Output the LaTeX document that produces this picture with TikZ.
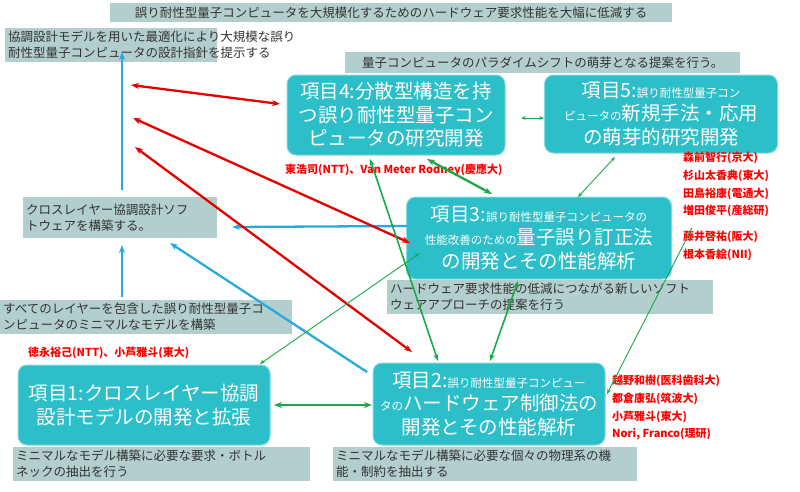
\documentclass[tikz,border=0pt]{standalone}
\usepackage{fontspec}
\setmainfont{Noto Sans CJK JP}
\usetikzlibrary{arrows.meta}
\definecolor{teal1}{HTML}{2CBFC9}
\definecolor{grey1}{HTML}{B3CFCD}
\definecolor{bl}{HTML}{29A9E1}
\definecolor{gr}{HTML}{1BAA4A}
\newcommand\smfnt{\fontsize{11.5}{14}\selectfont}
\begin{document}
\begin{tikzpicture}[x=1pt,y=-1pt,
 item/.style={draw=teal1!60!white,line width=1pt,fill=teal1,rounded corners=9pt,text=white,align=center,font=\fontsize{19.5}{23.5}\selectfont,inner sep=0pt},
 gbox/.style={fill=grey1,anchor=north west,align=left,inner sep=3pt,font=\fontsize{12.5}{16}\selectfont,text=black!80},
 who/.style={text=red,font=\bfseries\fontsize{11}{13}\selectfont,anchor=west,inner sep=0pt},
 ra/.style={red!90!black,line width=2.3pt,{Stealth[length=8pt]}-{Stealth[length=8pt]}},
 ba/.style={bl,line width=2.3pt,-{Stealth[length=8pt]}},
 ga/.style={gr,line width=2.3pt,{Stealth[length=8pt]}-{Stealth[length=8pt]}},
 gm/.style={gr,line width=1.6pt,{Stealth[length=7pt]}-{Stealth[length=7pt]}},
 gt/.style={gr,line width=0.9pt,{Stealth[length=5pt]}-{Stealth[length=5pt]}}]
\useasboundingbox (0,0) rectangle (800,491);
% grey boxes
\node[gbox,minimum width=562pt,minimum height=19pt] (g0) at (110,3) {誤り耐性型量子コンピュータを大規模化するためのハードウェア要求性能を大幅に低減する};
\node[gbox,text width=206pt] (g1) at (5,28) {協調設計モデルを用いた最適化により大規模な誤り\\耐性型量子コンピュータの設計指針を提示する};
\node[gbox,minimum width=395pt,minimum height=21pt] (g2) at (345,52) {量子コンピュータのパラダイムシフトの萌芽となる提案を行う。};
\node[gbox,text width=188pt,minimum height=41pt] (g3) at (23,197) {クロスレイヤー協調設計ソフ\\トウェアを構築する。};
\node[gbox,text width=320pt] (g4) at (387,280) {ハードウェア要求性能の低減につながる新しいソフト\\ウェアアプローチの提案を行う};
\node[gbox,text width=286pt] (g5) at (0,300) {すべてのレイヤーを包含した誤り耐性型量子コ\\ンピュータのミニマルなモデルを構築};
\node[gbox,text width=291pt] (g6) at (13,447) {ミニマルなモデル構築に必要な要求・ボトル\\ネックの抽出を行う};
\node[gbox,text width=298pt] (g7) at (333,447) {ミニマルなモデル構築に必要な個々の物理系の機\\能・制約を抽出する};
% items
\node[item,minimum width=218pt,minimum height=80pt] (i4) at (396,115) {項目4:分散型構造を持\\つ誤り耐性型量子コン\\ピュータの研究開発};
\node[item,minimum width=233pt,minimum height=78pt] (i5) at (661,114) {項目5:{\smfnt 誤り耐性型量子コン}\\{\smfnt ピュータの}新規手法・応用\\の萌芽的研究開発};
\node[item,minimum width=265pt,minimum height=82pt] (i3) at (539,238) {項目3:{\smfnt 誤り耐性型量子コンピュータの}\\{\smfnt 性能改善のための}量子誤り訂正法\\の開発とその性能解析};
\node[item,minimum width=252pt,minimum height=80pt] (i1) at (144,405) {項目1:クロスレイヤー協調\\設計モデルの開発と拡張};
\node[item,minimum width=232pt,minimum height=82pt] (i2) at (489,404) {項目2:{\smfnt 誤り耐性型量子コンピュー}\\{\smfnt タの}ハードウェア制御法の\\開発とその性能解析};
% names
\node[who] (w4) at (285,170) {東浩司(NTT)、Van Meter Rodney(慶應大)};
\node[who,align=left,font=\bfseries\fontsize{11}{17.7}\selectfont,anchor=north west] (w5) at (683,152) {森前智行(京大)\\杉山太香典(東大)\\田島裕康(電通大)\\増田俊平(産総研)\\[8pt]藤井啓祐(阪大)\\根本香絵(NII)};
\node[who] (w1) at (28,353) {徳永裕己(NTT)、小芦雅斗(東大)};
\node[who,align=left,font=\bfseries\fontsize{11}{17.7}\selectfont,anchor=north west] (w2) at (612,375) {越野和樹(医科歯科大)\\都倉康弘(筑波大)\\小芦雅斗(東大)\\Nori, Franco(理研)};
% coordinates
\coordinate (c1) at (122,190);
\coordinate (c2) at (122,52);
\coordinate (c3) at (122,297);
\coordinate (c4) at (122,245);
\coordinate (c5) at (170,243);
\coordinate (c6) at (232,227);
\coordinate (r1) at (131,85);
\coordinate (r2) at (133,118);
\coordinate (r3) at (135,147);
\coordinate (gs) at (692,228);
\coordinate (b2) at (367,372);
\coordinate (b3) at (407,226);
\coordinate (r4) at (280,104);
% blue
\draw[ba] (c1) -- (c2);
\draw[ba] (c3) -- (c4);
\draw[ba] (b2) -- (c5);
\draw[ba] (b3) -- (c6);
% red
\draw[ra] (r1) -- (r4);
\draw[ra] (r2) -- (410,243);
\draw[ra] (r3) -- (412,352);
% green
\draw[ga] (274,405) -- (372,405);
\draw[ga] (427,159) -- (492,194);
\draw[gm] (370,159) -- (438,361);
\draw[gm] (518,281) -- (490,361);
\draw[gt] (521,118) -- (544,118);
\draw[gt] (615,157) -- (578,197);
\draw[gt] (420,253) -- (260,364);
\draw[gr,line width=0.9pt,-{Stealth[length=5pt]}] (gs) -- (607,394);
\end{tikzpicture}
\end{document}
